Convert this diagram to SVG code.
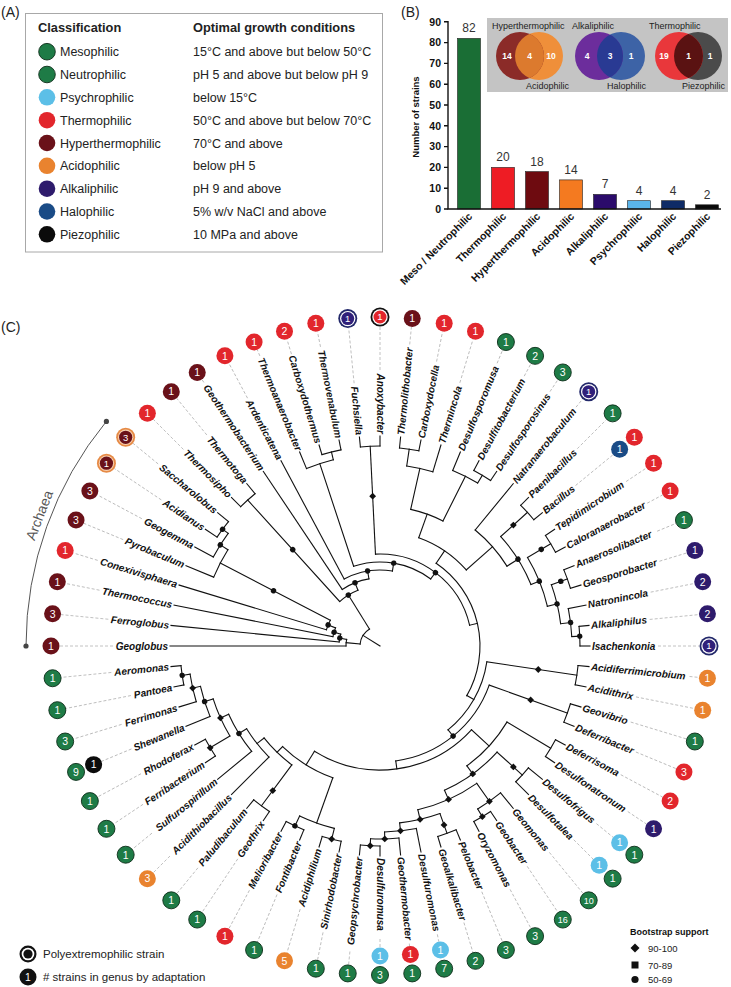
<svg xmlns="http://www.w3.org/2000/svg" xmlns:xlink="http://www.w3.org/1999/xlink" width="731" height="987" viewBox="0 0 731 987">
<style>
text{font-family:"Liberation Sans",Arial,Helvetica,sans-serif}
.t13{font-size:12.5px;fill:#222}
.hd{font-size:12.8px;font-weight:bold;fill:#222}
.pl{font-size:14px;fill:#222}
.ax{stroke:#111;stroke-width:1.4;fill:none}
.tk{font-size:10.5px;font-weight:bold;fill:#111;text-anchor:end}
.bv{font-size:12px;fill:#333;text-anchor:middle}
.xl{font-size:10.5px;font-weight:bold;fill:#111;text-anchor:end}
.vl{font-size:9px;fill:#222}
.vn{font-size:8.5px;font-weight:bold;fill:#fff;text-anchor:middle}
.br{stroke:#111;stroke-width:1.1;fill:none;stroke-linecap:square}
.ds{stroke:#b3b3b3;stroke-width:0.8;stroke-dasharray:3 2;fill:none}
.lb{font-size:10px;font-style:italic;font-weight:bold;fill:#111}
.fl{text-anchor:end}
.bn{font-size:10.5px;fill:#fff;text-anchor:middle}
.b2{font-size:9px}
.bs{font-size:9.5px}
.me{fill:#1e7b46;stroke:#0c2c18;stroke-width:0.9}
.ps{fill:#5cbfe7}
.th{fill:#e2262c}
.hy{fill:#6a1119}
.ac{fill:#e9832f}
.al{fill:#2e1b6c}
.ha{fill:#1a4b86}
.pz{fill:#0b0b0b}
.mk{fill:#111}
.lg{font-size:11.5px;fill:#222}
.bl{font-size:9.5px;fill:#222}
</style>
<defs>
<circle id="md" r="2.7"/>
<path id="mq" d="M0-3.4L3.4 0L0 3.4L-3.4 0Z"/>
<clipPath id="cv1"><circle cx="520" cy="56" r="24"/></clipPath>
<clipPath id="cv2"><circle cx="599" cy="56" r="24"/></clipPath>
<clipPath id="cv3"><circle cx="679" cy="56" r="24"/></clipPath>
</defs>
<rect width="731" height="987" fill="#fff"/>

<g id="panel-A">
<text class="pl" x="1" y="17">(A)</text>
<rect x="25.5" y="13.5" width="357" height="238.5" fill="none" stroke="#a8a8a8" stroke-width="1"/>
<text class="hd" x="38" y="32">Classification</text>
<text class="hd" x="193" y="32">Optimal growth conditions</text>
<g id="row-mesophilic"><circle class="me" cx="47" cy="51.7" r="8.3"/><text class="t13" x="60" y="56.2">Mesophilic</text><text class="t13" x="193" y="56.2">15°C and above but below 50°C</text></g>
<g id="row-neutrophilic"><circle class="me" cx="47" cy="74.5" r="8.3"/><text class="t13" x="60" y="79">Neutrophilic</text><text class="t13" x="193" y="79">pH 5 and above but below pH 9</text></g>
<g id="row-psychrophilic"><circle class="ps" cx="47" cy="97.3" r="8.3"/><text class="t13" x="60" y="101.8">Psychrophilic</text><text class="t13" x="193" y="101.8">below 15°C</text></g>
<g id="row-thermophilic"><circle class="th" cx="47" cy="120.2" r="8.3"/><text class="t13" x="60" y="124.7">Thermophilic</text><text class="t13" x="193" y="124.7">50°C and above but below 70°C</text></g>
<g id="row-hyperthermophilic"><circle class="hy" cx="47" cy="143" r="8.3"/><text class="t13" x="60" y="147.5">Hyperthermophilic</text><text class="t13" x="193" y="147.5">70°C and above</text></g>
<g id="row-acidophilic"><circle class="ac" cx="47" cy="165.8" r="8.3"/><text class="t13" x="60" y="170.3">Acidophilic</text><text class="t13" x="193" y="170.3">below pH 5</text></g>
<g id="row-alkaliphilic"><circle class="al" cx="47" cy="188.7" r="8.3"/><text class="t13" x="60" y="193.2">Alkaliphilic</text><text class="t13" x="193" y="193.2">pH 9 and above</text></g>
<g id="row-halophilic"><circle class="ha" cx="47" cy="211.5" r="8.3"/><text class="t13" x="60" y="216">Halophilic</text><text class="t13" x="193" y="216">5% w/v NaCl and above</text></g>
<g id="row-piezophilic"><circle class="pz" cx="47" cy="234.3" r="8.3"/><text class="t13" x="60" y="238.8">Piezophilic</text><text class="t13" x="193" y="238.8">10 MPa and above</text></g>
</g>

<g id="panel-B">
<text class="pl" x="401" y="17">(B)</text>
<text class="tk" style="font-size:9.5px;text-anchor:middle" transform="translate(418.5 117) rotate(-90)">Number of strains</text>
<g id="y-ticks">
<path class="ax" d="M444 209H448M444 188.2H448M444 167.4H448M444 146.6H448M444 125.8H448M444 105H448M444 84.2H448M444 63.4H448M444 42.6H448M444 21.8H448"/>
<text class="tk" x="441" y="212.8">0</text><text class="tk" x="441" y="192">10</text><text class="tk" x="441" y="171.2">20</text><text class="tk" x="441" y="150.4">30</text><text class="tk" x="441" y="129.6">40</text><text class="tk" x="441" y="108.8">50</text><text class="tk" x="441" y="88">60</text><text class="tk" x="441" y="67.2">70</text><text class="tk" x="441" y="46.4">80</text><text class="tk" x="441" y="25.6">90</text>
</g>
<g id="bars" stroke="#222" stroke-width="0.6">
<rect x="457.5" y="38.4" width="23" height="170.6" fill="#1a6e35"/>
<rect x="491.5" y="167.4" width="23" height="41.6" fill="#ee1c24"/>
<rect x="525.5" y="171.6" width="23" height="37.4" fill="#6e0b10"/>
<rect x="559.5" y="179.9" width="23" height="29.1" fill="#f47a20"/>
<rect x="593.5" y="194.4" width="23" height="14.6" fill="#2b0b6b"/>
<rect x="627.5" y="200.7" width="23" height="8.3" fill="#5ab4ea"/>
<rect x="661.5" y="200.7" width="23" height="8.3" fill="#0e2b66"/>
<rect x="695.5" y="204.8" width="23" height="4.2" fill="#0a0a0a"/>
</g>
<path class="ax" d="M448 21V209H721"/>
<g id="bar-values">
<text class="bv" x="469" y="32">82</text><text class="bv" x="503" y="161">20</text><text class="bv" x="537" y="165.5">18</text><text class="bv" x="571" y="173.5">14</text><text class="bv" x="605" y="188">7</text><text class="bv" x="639" y="194.5">4</text><text class="bv" x="673" y="194.5">4</text><text class="bv" x="707" y="198.5">2</text>
</g>
<g id="bar-labels">
<text class="xl" transform="translate(473 217) rotate(-45)">Meso / Neutrophilic</text>
<text class="xl" transform="translate(507 217) rotate(-45)">Thermophilic</text>
<text class="xl" transform="translate(541 217) rotate(-45)">Hyperthermophilic</text>
<text class="xl" transform="translate(575 217) rotate(-45)">Acidophilic</text>
<text class="xl" transform="translate(609 217) rotate(-45)">Alkaliphilic</text>
<text class="xl" transform="translate(643 217) rotate(-45)">Psychrophilic</text>
<text class="xl" transform="translate(677 217) rotate(-45)">Halophilic</text>
<text class="xl" transform="translate(711 217) rotate(-45)">Piezophilic</text>
</g>
<g id="venn-inset">
<rect x="487" y="18" width="241" height="74" fill="#c4c4c4"/>
<circle cx="539" cy="56" r="24" fill="#ef8f3a"/><circle cx="520" cy="56" r="24" fill="#8b2b28"/><circle cx="539" cy="56" r="24" fill="#dc7a2e" clip-path="url(#cv1)"/>
<circle cx="621" cy="56" r="24" fill="#3d63a6"/><circle cx="599" cy="56" r="24" fill="#6c2d9c"/><circle cx="621" cy="56" r="24" fill="#293a93" clip-path="url(#cv2)"/>
<circle cx="698" cy="56" r="24" fill="#4b4b4b"/><circle cx="679" cy="56" r="24" fill="#e9373b"/><circle cx="698" cy="56" r="24" fill="#5a1212" clip-path="url(#cv3)"/>
<text class="vn" x="507" y="59">14</text><text class="vn" x="529.5" y="59">4</text><text class="vn" x="551" y="59">10</text>
<text class="vn" x="587" y="59">4</text><text class="vn" x="610" y="59">3</text><text class="vn" x="631" y="59">1</text>
<text class="vn" x="664" y="59">19</text><text class="vn" x="688.5" y="59">1</text><text class="vn" x="710" y="59">1</text>
<text class="vl" x="492" y="29">Hyperthermophilic</text><text class="vl" x="526" y="88.5">Acidophilic</text>
<text class="vl" x="572" y="29">Alkaliphilic</text><text class="vl" x="607" y="88.5">Halophilic</text>
<text class="vl" x="649" y="29">Thermophilic</text><text class="vl" x="682" y="88.5">Piezophilic</text>
</g>
</g>

<text class="pl" x="1" y="332">(C)</text>

<g id="archaea-bracket">
<circle cx="380" cy="646" r="354" fill="none" stroke="#555" stroke-width="1" stroke-dasharray="243.27 3000" transform="rotate(180 380 646)"/>
<circle cx="26" cy="646" r="2.6" fill="#444"/><circle cx="106.4" cy="421.4" r="2.6" fill="#444"/>
<text x="43.9" y="517" style="font-size:14px;fill:#555;text-anchor:middle" transform="rotate(-69 43.9 517)">Archaea</text>
</g>

<g id="connectors">
<g id="arcs">
<circle class="br" cx="380" cy="646" r="196" stroke-dasharray="19.24 2000" transform="rotate(213.75 380 646)"/>
<circle class="br" cx="380" cy="646" r="189" stroke-dasharray="27.84 2000" transform="rotate(208.125 380 646)"/>
<circle class="br" cx="380" cy="646" r="180" stroke-dasharray="30.91 2000" transform="rotate(202.5 380 646)"/>
<circle class="br" cx="380" cy="646" r="56" stroke-dasharray="10.31 2000" transform="rotate(196.875 380 646)"/>
<circle class="br" cx="380" cy="646" r="48" stroke-dasharray="9.13 2000" transform="rotate(191.25 380 646)"/>
<circle class="br" cx="380" cy="646" r="41" stroke-dasharray="7.93 2000" transform="rotate(185.625 380 646)"/>
<circle class="br" cx="380" cy="646" r="34" stroke-dasharray="6.62 2000" transform="rotate(180 380 646)"/>
<circle class="br" cx="380" cy="646" r="20" stroke-dasharray="18.34 2000" transform="rotate(185.58 380 646)"/>
<circle class="br" cx="380" cy="646" r="197" stroke-dasharray="19.34 2000" transform="rotate(225 380 646)"/>
<circle class="br" cx="380" cy="646" r="60" stroke-dasharray="21.6 2000" transform="rotate(227.81 380 646)"/>
<circle class="br" cx="380" cy="646" r="68" stroke-dasharray="28.94 2000" transform="rotate(236.25 380 646)"/>
<circle class="br" cx="380" cy="646" r="76" stroke-dasharray="49.77 2000" transform="rotate(241.875 380 646)"/>
<circle class="br" cx="380" cy="646" r="84" stroke-dasharray="81.12 2000" transform="rotate(251.72 380 646)"/>
<circle class="br" cx="380" cy="646" r="200" stroke-dasharray="19.63 2000" transform="rotate(253.125 380 646)"/>
<circle class="br" cx="380" cy="646" r="192" stroke-dasharray="28.28 2000" transform="rotate(247.5 380 646)"/>
<circle class="br" cx="380" cy="646" r="200" stroke-dasharray="19.63 2000" transform="rotate(264.375 380 646)"/>
<circle class="br" cx="380" cy="646" r="92" stroke-dasharray="128.02 2000" transform="rotate(267.19 380 646)"/>
<circle class="br" cx="380" cy="646" r="100" stroke-dasharray="149.3 2000" transform="rotate(304.15 380 646)"/>
<circle class="br" cx="380" cy="646" r="199" stroke-dasharray="19.54 2000" transform="rotate(275.625 380 646)"/>
<circle class="br" cx="380" cy="646" r="182" stroke-dasharray="26.81 2000" transform="rotate(278.44 380 646)"/>
<circle class="br" cx="380" cy="646" r="199" stroke-dasharray="19.54 2000" transform="rotate(298.125 380 646)"/>
<circle class="br" cx="380" cy="646" r="190" stroke-dasharray="27.99 2000" transform="rotate(292.5 380 646)"/>
<circle class="br" cx="380" cy="646" r="140" stroke-dasharray="34.36 2000" transform="rotate(282.66 380 646)"/>
<circle class="br" cx="380" cy="646" r="199" stroke-dasharray="19.54 2000" transform="rotate(315 380 646)"/>
<circle class="br" cx="380" cy="646" r="199" stroke-dasharray="19.54 2000" transform="rotate(326.25 380 646)"/>
<circle class="br" cx="380" cy="646" r="199" stroke-dasharray="19.54 2000" transform="rotate(337.5 380 646)"/>
<circle class="br" cx="380" cy="646" r="200" stroke-dasharray="19.63 2000" transform="rotate(354.375 380 646)"/>
<circle class="br" cx="380" cy="646" r="192" stroke-dasharray="28.28 2000" transform="rotate(348.75 380 646)"/>
<circle class="br" cx="380" cy="646" r="182" stroke-dasharray="40.21 2000" transform="rotate(340.31 380 646)"/>
<circle class="br" cx="380" cy="646" r="172" stroke-dasharray="52.77 2000" transform="rotate(329.06 380 646)"/>
<circle class="br" cx="380" cy="646" r="163" stroke-dasharray="57.01 2000" transform="rotate(317.81 380 646)"/>
<circle class="br" cx="380" cy="646" r="150" stroke-dasharray="48.3 2000" transform="rotate(309.375 380 646)"/>
<circle class="br" cx="380" cy="646" r="115" stroke-dasharray="58.03 2000" transform="rotate(289.69 380 646)"/>
<circle class="br" cx="380" cy="646" r="108" stroke-dasharray="80.11 2000" transform="rotate(368.44 380 646)"/>
<circle class="br" cx="380" cy="646" r="199" stroke-dasharray="19.54 2000" transform="rotate(365.625 380 646)"/>
<circle class="br" cx="380" cy="646" r="116" stroke-dasharray="126.54 2000" transform="rotate(379.69 380 646)"/>
<circle class="br" cx="380" cy="646" r="199" stroke-dasharray="19.54 2000" transform="rotate(376.875 380 646)"/>
<circle class="br" cx="380" cy="646" r="124" stroke-dasharray="171.79 2000" transform="rotate(402.5 380 646)"/>
<circle class="br" cx="380" cy="646" r="148" stroke-dasharray="59.7 2000" transform="rotate(390.94 380 646)"/>
<circle class="br" cx="380" cy="646" r="199" stroke-dasharray="19.54 2000" transform="rotate(388.125 380 646)"/>
<circle class="br" cx="380" cy="646" r="158" stroke-dasharray="65.44 2000" transform="rotate(402.19 380 646)"/>
<circle class="br" cx="380" cy="646" r="192" stroke-dasharray="18.85 2000" transform="rotate(399.375 380 646)"/>
<circle class="br" cx="380" cy="646" r="168" stroke-dasharray="64.95 2000" transform="rotate(414.84 380 646)"/>
<circle class="br" cx="380" cy="646" r="190" stroke-dasharray="27.99 2000" transform="rotate(410.625 380 646)"/>
<circle class="br" cx="380" cy="646" r="199" stroke-dasharray="19.54 2000" transform="rotate(416.25 380 646)"/>
<circle class="br" cx="380" cy="646" r="178" stroke-dasharray="41.51 2000" transform="rotate(430.31 380 646)"/>
<circle class="br" cx="380" cy="646" r="199" stroke-dasharray="19.54 2000" transform="rotate(427.5 380 646)"/>
<circle class="br" cx="380" cy="646" r="186" stroke-dasharray="31.94 2000" transform="rotate(438.75 380 646)"/>
<circle class="br" cx="380" cy="646" r="193" stroke-dasharray="28.43 2000" transform="rotate(444.375 380 646)"/>
<circle class="br" cx="380" cy="646" r="200" stroke-dasharray="19.63 2000" transform="rotate(450 380 646)"/>
<circle class="br" cx="380" cy="646" r="140" stroke-dasharray="59.6 2000" transform="rotate(469.69 380 646)"/>
<circle class="br" cx="380" cy="646" r="188" stroke-dasharray="36.91 2000" transform="rotate(464.06 380 646)"/>
<circle class="br" cx="380" cy="646" r="199" stroke-dasharray="19.54 2000" transform="rotate(461.25 380 646)"/>
<circle class="br" cx="380" cy="646" r="199" stroke-dasharray="19.54 2000" transform="rotate(472.5 380 646)"/>
<circle class="br" cx="380" cy="646" r="148" stroke-dasharray="38.82 2000" transform="rotate(486.56 380 646)"/>
<circle class="br" cx="380" cy="646" r="199" stroke-dasharray="19.54 2000" transform="rotate(483.75 380 646)"/>
<circle class="br" cx="380" cy="646" r="157" stroke-dasharray="36.12 2000" transform="rotate(495 380 646)"/>
<circle class="br" cx="380" cy="646" r="166" stroke-dasharray="43.81 2000" transform="rotate(500.625 380 646)"/>
<circle class="br" cx="380" cy="646" r="175" stroke-dasharray="40.81 2000" transform="rotate(509.06 380 646)"/>
<circle class="br" cx="380" cy="646" r="198" stroke-dasharray="19.44 2000" transform="rotate(506.25 380 646)"/>
<circle class="br" cx="380" cy="646" r="184" stroke-dasharray="31.6 2000" transform="rotate(517.5 380 646)"/>
<circle class="br" cx="380" cy="646" r="192" stroke-dasharray="28.28 2000" transform="rotate(523.125 380 646)"/>
<circle class="br" cx="380" cy="646" r="200" stroke-dasharray="19.63 2000" transform="rotate(528.75 380 646)"/>
</g>
<g id="leaf-stems">
<path class="br" d="M414 646H590" transform="rotate(180 380 646)"/>
<path class="br" d="M421 646H590" transform="rotate(185.625 380 646)"/>
<path class="br" d="M428 646H590" transform="rotate(191.25 380 646)"/>
<path class="br" d="M436 646H590" transform="rotate(196.875 380 646)"/>
<path class="br" d="M560 646H590" transform="rotate(202.5 380 646)"/>
<path class="br" d="M569 646H590" transform="rotate(208.125 380 646)"/>
<path class="br" d="M576 646H590" transform="rotate(213.75 380 646)"/>
<path class="br" d="M576 646H590" transform="rotate(219.375 380 646)"/>
<path class="br" d="M577 646H590" transform="rotate(225 380 646)"/>
<path class="br" d="M577 646H590" transform="rotate(230.625 380 646)"/>
<path class="br" d="M448 646H590" transform="rotate(236.25 380 646)"/>
<path class="br" d="M456 646H590" transform="rotate(241.875 380 646)"/>
<path class="br" d="M572 646H590" transform="rotate(247.5 380 646)"/>
<path class="br" d="M580 646H590" transform="rotate(253.125 380 646)"/>
<path class="br" d="M580 646H590" transform="rotate(258.75 380 646)"/>
<path class="br" d="M580 646H590" transform="rotate(264.375 380 646)"/>
<path class="br" d="M580 646H590" transform="rotate(270 380 646)"/>
<path class="br" d="M579 646H590" transform="rotate(275.625 380 646)"/>
<path class="br" d="M579 646H590" transform="rotate(281.25 380 646)"/>
<path class="br" d="M562 646H590" transform="rotate(286.875 380 646)"/>
<path class="br" d="M570 646H590" transform="rotate(292.5 380 646)"/>
<path class="br" d="M579 646H590" transform="rotate(298.125 380 646)"/>
<path class="br" d="M579 646H590" transform="rotate(303.75 380 646)"/>
<path class="br" d="M530 646H590" transform="rotate(309.375 380 646)"/>
<path class="br" d="M579 646H590" transform="rotate(315 380 646)"/>
<path class="br" d="M579 646H590" transform="rotate(320.625 380 646)"/>
<path class="br" d="M579 646H590" transform="rotate(326.25 380 646)"/>
<path class="br" d="M579 646H590" transform="rotate(331.875 380 646)"/>
<path class="br" d="M579 646H590" transform="rotate(337.5 380 646)"/>
<path class="br" d="M579 646H590" transform="rotate(343.125 380 646)"/>
<path class="br" d="M572 646H590" transform="rotate(348.75 380 646)"/>
<path class="br" d="M580 646H590" transform="rotate(354.375 380 646)"/>
<path class="br" d="M580 646H590" transform="rotate(360 380 646)"/>
<path class="br" d="M579 646H590" transform="rotate(365.625 380 646)"/>
<path class="br" d="M579 646H590" transform="rotate(371.25 380 646)"/>
<path class="br" d="M579 646H590" transform="rotate(376.875 380 646)"/>
<path class="br" d="M579 646H590" transform="rotate(382.5 380 646)"/>
<path class="br" d="M579 646H590" transform="rotate(388.125 380 646)"/>
<path class="br" d="M579 646H590" transform="rotate(393.75 380 646)"/>
<path class="br" d="M572 646H590" transform="rotate(399.375 380 646)"/>
<path class="br" d="M572 646H590" transform="rotate(405 380 646)"/>
<path class="br" d="M570 646H590" transform="rotate(410.625 380 646)"/>
<path class="br" d="M579 646H590" transform="rotate(416.25 380 646)"/>
<path class="br" d="M579 646H590" transform="rotate(421.875 380 646)"/>
<path class="br" d="M579 646H590" transform="rotate(427.5 380 646)"/>
<path class="br" d="M579 646H590" transform="rotate(433.125 380 646)"/>
<path class="br" d="M566 646H590" transform="rotate(438.75 380 646)"/>
<path class="br" d="M573 646H590" transform="rotate(444.375 380 646)"/>
<path class="br" d="M580 646H590" transform="rotate(450 380 646)"/>
<path class="br" d="M580 646H590" transform="rotate(455.625 380 646)"/>
<path class="br" d="M579 646H590" transform="rotate(461.25 380 646)"/>
<path class="br" d="M579 646H590" transform="rotate(466.875 380 646)"/>
<path class="br" d="M579 646H590" transform="rotate(472.5 380 646)"/>
<path class="br" d="M579 646H590" transform="rotate(478.125 380 646)"/>
<path class="br" d="M579 646H590" transform="rotate(483.75 380 646)"/>
<path class="br" d="M579 646H590" transform="rotate(489.375 380 646)"/>
<path class="br" d="M537 646H590" transform="rotate(495 380 646)"/>
<path class="br" d="M546 646H590" transform="rotate(500.625 380 646)"/>
<path class="br" d="M578 646H590" transform="rotate(506.25 380 646)"/>
<path class="br" d="M578 646H590" transform="rotate(511.875 380 646)"/>
<path class="br" d="M564 646H590" transform="rotate(517.5 380 646)"/>
<path class="br" d="M572 646H590" transform="rotate(523.125 380 646)"/>
<path class="br" d="M580 646H590" transform="rotate(528.75 380 646)"/>
<path class="br" d="M580 646H590" transform="rotate(534.375 380 646)"/>
</g>
<g id="inner-stems">
<path class="br" d="M569 646H576" transform="rotate(216.56 380 646)"/>
<path class="br" d="M560 646H569" transform="rotate(212.34 380 646)"/>
<path class="br" d="M436 646H560" transform="rotate(207.42 380 646)"/>
<path class="br" d="M428 646H436" transform="rotate(202.15 380 646)"/>
<path class="br" d="M421 646H428" transform="rotate(196.7 380 646)"/>
<path class="br" d="M414 646H421" transform="rotate(191.16 380 646)"/>
<path class="br" d="M400 646H414" transform="rotate(185.58 380 646)"/>
<path class="br" d="M380 646H400" transform="rotate(211.86 380 646)"/>
<path class="br" d="M440 646H577" transform="rotate(227.81 380 646)"/>
<path class="br" d="M400 646H440" transform="rotate(238.13 380 646)"/>
<path class="br" d="M440 646H448" transform="rotate(248.44 380 646)"/>
<path class="br" d="M448 646H456" transform="rotate(260.63 380 646)"/>
<path class="br" d="M456 646H464" transform="rotate(279.39 380 646)"/>
<path class="br" d="M572 646H580" transform="rotate(255.94 380 646)"/>
<path class="br" d="M464 646H572" transform="rotate(251.72 380 646)"/>
<path class="br" d="M472 646H580" transform="rotate(267.19 380 646)"/>
<path class="br" d="M464 646H472" transform="rotate(307.05 380 646)"/>
<path class="br" d="M472 646H480" transform="rotate(346.92 380 646)"/>
<path class="br" d="M562 646H579" transform="rotate(278.44 380 646)"/>
<path class="br" d="M520 646H562" transform="rotate(282.66 380 646)"/>
<path class="br" d="M570 646H579" transform="rotate(300.94 380 646)"/>
<path class="br" d="M520 646H570" transform="rotate(296.72 380 646)"/>
<path class="br" d="M495 646H520" transform="rotate(289.69 380 646)"/>
<path class="br" d="M543 646H579" transform="rotate(317.81 380 646)"/>
<path class="br" d="M552 646H579" transform="rotate(329.06 380 646)"/>
<path class="br" d="M562 646H579" transform="rotate(340.31 380 646)"/>
<path class="br" d="M572 646H580" transform="rotate(357.19 380 646)"/>
<path class="br" d="M562 646H572" transform="rotate(352.97 380 646)"/>
<path class="br" d="M552 646H562" transform="rotate(346.64 380 646)"/>
<path class="br" d="M543 646H552" transform="rotate(337.85 380 646)"/>
<path class="br" d="M530 646H543" transform="rotate(327.83 380 646)"/>
<path class="br" d="M495 646H530" transform="rotate(318.6 380 646)"/>
<path class="br" d="M480 646H495" transform="rotate(304.15 380 646)"/>
<path class="br" d="M480 646H488" transform="rotate(389.69 380 646)"/>
<path class="br" d="M488 646H579" transform="rotate(368.44 380 646)"/>
<path class="br" d="M488 646H496" transform="rotate(410.94 380 646)"/>
<path class="br" d="M496 646H579" transform="rotate(379.69 380 646)"/>
<path class="br" d="M496 646H504" transform="rotate(442.19 380 646)"/>
<path class="br" d="M504 646H528" transform="rotate(402.5 380 646)"/>
<path class="br" d="M528 646H579" transform="rotate(390.94 380 646)"/>
<path class="br" d="M528 646H538" transform="rotate(414.05 380 646)"/>
<path class="br" d="M538 646H572" transform="rotate(402.19 380 646)"/>
<path class="br" d="M538 646H548" transform="rotate(425.92 380 646)"/>
<path class="br" d="M548 646H570" transform="rotate(414.84 380 646)"/>
<path class="br" d="M570 646H579" transform="rotate(419.06 380 646)"/>
<path class="br" d="M548 646H558" transform="rotate(436.99 380 646)"/>
<path class="br" d="M558 646H579" transform="rotate(430.31 380 646)"/>
<path class="br" d="M558 646H566" transform="rotate(443.67 380 646)"/>
<path class="br" d="M566 646H573" transform="rotate(448.59 380 646)"/>
<path class="br" d="M573 646H580" transform="rotate(452.81 380 646)"/>
<path class="br" d="M504 646H520" transform="rotate(481.88 380 646)"/>
<path class="br" d="M520 646H568" transform="rotate(469.69 380 646)"/>
<path class="br" d="M568 646H579" transform="rotate(464.06 380 646)"/>
<path class="br" d="M568 646H579" transform="rotate(475.31 380 646)"/>
<path class="br" d="M520 646H528" transform="rotate(494.08 380 646)"/>
<path class="br" d="M528 646H579" transform="rotate(486.56 380 646)"/>
<path class="br" d="M528 646H537" transform="rotate(501.59 380 646)"/>
<path class="br" d="M537 646H546" transform="rotate(508.18 380 646)"/>
<path class="br" d="M546 646H555" transform="rotate(515.74 380 646)"/>
<path class="br" d="M555 646H578" transform="rotate(509.06 380 646)"/>
<path class="br" d="M555 646H564" transform="rotate(522.42 380 646)"/>
<path class="br" d="M564 646H572" transform="rotate(527.34 380 646)"/>
<path class="br" d="M572 646H580" transform="rotate(531.56 380 646)"/>
</g>
<g id="bootstrap-markers" class="mk">
<use href="#md" transform="rotate(216.56 380 646) translate(576 646)"/>
<use href="#md" transform="rotate(212.34 380 646) translate(569 646)"/>
<use href="#md" transform="rotate(207.42 380 646) translate(500 646)"/>
<use href="#md" transform="rotate(202.15 380 646) translate(436 646)"/>
<use href="#md" transform="rotate(196.7 380 646) translate(428 646)"/>
<use href="#md" transform="rotate(191.16 380 646) translate(421 646)"/>
<use href="#md" transform="rotate(227.81 380 646) translate(510 646)"/>
<use href="#md" transform="rotate(238.13 380 646) translate(440 646)"/>
<use href="#md" transform="rotate(248.44 380 646) translate(448 646)"/>
<use href="#md" transform="rotate(260.63 380 646) translate(456 646)"/>
<use href="#md" transform="rotate(279.39 380 646) translate(464 646)"/>
<use href="#md" transform="rotate(307.05 380 646) translate(472 646)"/>
<use href="#md" transform="rotate(327.83 380 646) translate(543 646)"/>
<use href="#md" transform="rotate(329.06 380 646) translate(568 646)"/>
<use href="#md" transform="rotate(337.85 380 646) translate(552 646)"/>
<use href="#md" transform="rotate(340.31 380 646) translate(572 646)"/>
<use href="#md" transform="rotate(346.64 380 646) translate(562 646)"/>
<use href="#md" transform="rotate(352.97 380 646) translate(572 646)"/>
<use href="#md" transform="rotate(357.19 380 646) translate(580 646)"/>
<use href="#md" transform="rotate(410.94 380 646) translate(496 646)"/>
<use href="#md" transform="rotate(475.31 380 646) translate(579 646)"/>
<use href="#md" transform="rotate(508.18 380 646) translate(546 646)"/>
<use href="#md" transform="rotate(522.42 380 646) translate(564 646)"/>
<use href="#md" transform="rotate(531.56 380 646) translate(580 646)"/>
<use href="#mq" transform="rotate(267.19 380 646) translate(530 646) rotate(-267.19)"/>
<use href="#mq" transform="rotate(317.81 380 646) translate(560 646) rotate(-317.81)"/>
<use href="#mq" transform="rotate(368.44 380 646) translate(540 646) rotate(-368.44)"/>
<use href="#mq" transform="rotate(379.69 380 646) translate(540 646) rotate(-379.69)"/>
<use href="#mq" transform="rotate(402.19 380 646) translate(560 646) rotate(-402.19)"/>
<use href="#mq" transform="rotate(414.05 380 646) translate(538 646) rotate(-414.05)"/>
<use href="#mq" transform="rotate(414.84 380 646) translate(570 646) rotate(-414.84)"/>
<use href="#mq" transform="rotate(419.06 380 646) translate(579 646) rotate(-419.06)"/>
<use href="#mq" transform="rotate(425.92 380 646) translate(548 646) rotate(-425.92)"/>
<use href="#mq" transform="rotate(430.31 380 646) translate(570 646) rotate(-430.31)"/>
<use href="#mq" transform="rotate(436.99 380 646) translate(558 646) rotate(-436.99)"/>
<use href="#mq" transform="rotate(443.67 380 646) translate(566 646) rotate(-443.67)"/>
<use href="#mq" transform="rotate(448.59 380 646) translate(573 646) rotate(-448.59)"/>
<use href="#mq" transform="rotate(452.81 380 646) translate(580 646) rotate(-452.81)"/>
<use href="#mq" transform="rotate(464.06 380 646) translate(579 646) rotate(-464.06)"/>
<use href="#mq" transform="rotate(486.56 380 646) translate(560 646) rotate(-486.56)"/>
<use href="#mq" transform="rotate(509.06 380 646) translate(578 646) rotate(-509.06)"/>
<use href="#mq" transform="rotate(515.74 380 646) translate(555 646) rotate(-515.74)"/>
<use href="#mq" transform="rotate(527.34 380 646) translate(572 646) rotate(-527.34)"/>
</g>
</g>

<g id="leaves">
<g id="leaf-Geoglobus" transform="rotate(180 380 646)"><path class="ds" d="M647 646H700.5"/><text class="lb fl" x="592" y="649.5" transform="rotate(180 592 646)">Geoglobus</text><g transform="translate(709 646) rotate(-180)"><circle class="hy" r="8.5"/><text class="bn" y="3.8">1</text></g></g>
<g id="leaf-Ferroglobus" transform="rotate(185.625 380 646)"><path class="ds" d="M653 646H700.5"/><text class="lb fl" x="592" y="649.5" transform="rotate(180 592 646)">Ferroglobus</text><g transform="translate(709 646) rotate(-185.625)"><circle class="hy" r="8.5"/><text class="bn" y="3.8">3</text></g></g>
<g id="leaf-Thermococcus" transform="rotate(191.25 380 646)"><path class="ds" d="M666 646H700.5"/><text class="lb fl" x="592" y="649.5" transform="rotate(180 592 646)">Thermococcus</text><g transform="translate(709 646) rotate(-191.25)"><circle class="hy" r="8.5"/><text class="bn" y="3.8">1</text></g></g>
<g id="leaf-Conexivisphaera" transform="rotate(196.875 380 646)"><path class="ds" d="M675 646H700.5"/><text class="lb fl" x="592" y="649.5" transform="rotate(180 592 646)">Conexivisphaera</text><g transform="translate(709 646) rotate(-196.875)"><circle class="th" r="8.5"/><text class="bn" y="3.8">1</text></g></g>
<g id="leaf-Pyrobaculum" transform="rotate(202.5 380 646)"><path class="ds" d="M658 646H700.5"/><text class="lb fl" x="592" y="649.5" transform="rotate(180 592 646)">Pyrobaculum</text><g transform="translate(709 646) rotate(-202.5)"><circle class="hy" r="8.5"/><text class="bn" y="3.8">3</text></g></g>
<g id="leaf-Geogemma" transform="rotate(208.125 380 646)"><path class="ds" d="M650 646H700.5"/><text class="lb fl" x="592" y="649.5" transform="rotate(180 592 646)">Geogemma</text><g transform="translate(709 646) rotate(-208.125)"><circle class="hy" r="8.5"/><text class="bn" y="3.8">3</text></g></g>
<g id="leaf-Acidianus" transform="rotate(213.75 380 646)"><path class="ds" d="M643 646H699.5"/><text class="lb fl" x="592" y="649.5" transform="rotate(180 592 646)">Acidianus</text><g transform="translate(709 646) rotate(-213.75)"><circle r="9.5" fill="#e68a45"/><circle r="7.7" fill="#f7cfb0"/><circle class="hy" r="6.6"/><text class="bn bs" y="3.4">1</text></g></g>
<g id="leaf-Saccharolobus" transform="rotate(219.375 380 646)"><path class="ds" d="M667 646H699.5"/><text class="lb fl" x="592" y="649.5" transform="rotate(180 592 646)">Saccharolobus</text><g transform="translate(709 646) rotate(-219.375)"><circle r="9.5" fill="#e68a45"/><circle r="7.7" fill="#f7cfb0"/><circle class="hy" r="6.6"/><text class="bn bs" y="3.4">3</text></g></g>
<g id="leaf-Thermosipho" transform="rotate(225 380 646)"><path class="ds" d="M658 646H700.5"/><text class="lb fl" x="592" y="649.5" transform="rotate(180 592 646)">Thermosipho</text><g transform="translate(709 646) rotate(-225)"><circle class="th" r="8.5"/><text class="bn" y="3.8">1</text></g></g>
<g id="leaf-Thermotoga" transform="rotate(230.625 380 646)"><path class="ds" d="M653 646H700.5"/><text class="lb fl" x="592" y="649.5" transform="rotate(180 592 646)">Thermotoga</text><g transform="translate(709 646) rotate(-230.625)"><circle class="hy" r="8.5"/><text class="bn" y="3.8">1</text></g></g>
<g id="leaf-Geothermobacterium" transform="rotate(236.25 380 646)"><path class="ds" d="M697 646H700.5"/><text class="lb fl" x="592" y="649.5" transform="rotate(180 592 646)">Geothermobacterium</text><g transform="translate(709 646) rotate(-236.25)"><circle class="hy" r="8.5"/><text class="bn" y="3.8">1</text></g></g>
<g id="leaf-Ardenticatena" transform="rotate(241.875 380 646)"><path class="ds" d="M661 646H700.5"/><text class="lb fl" x="592" y="649.5" transform="rotate(180 592 646)">Ardenticatena</text><g transform="translate(709 646) rotate(-241.875)"><circle class="th" r="8.5"/><text class="bn" y="3.8">1</text></g></g>
<g id="leaf-Thermoanaerobacter" transform="rotate(247.5 380 646)"><path class="ds" d="M694 646H700.5"/><text class="lb fl" x="592" y="649.5" transform="rotate(180 592 646)">Thermoanaerobacter</text><g transform="translate(709 646) rotate(-247.5)"><circle class="th" r="8.5"/><text class="bn" y="3.8">1</text></g></g>
<g id="leaf-Carboxydothermus" transform="rotate(253.125 380 646)"><path class="ds" d="M685 646H700.5"/><text class="lb fl" x="592" y="649.5" transform="rotate(180 592 646)">Carboxydothermus</text><g transform="translate(709 646) rotate(-253.125)"><circle class="th" r="8.5"/><text class="bn" y="3.8">2</text></g></g>
<g id="leaf-Thermovenabulum" transform="rotate(258.75 380 646)"><path class="ds" d="M685 646H700.5"/><text class="lb fl" x="592" y="649.5" transform="rotate(180 592 646)">Thermovenabulum</text><g transform="translate(709 646) rotate(-258.75)"><circle class="th" r="8.5"/><text class="bn" y="3.8">1</text></g></g>
<g id="leaf-Fuchsiella" transform="rotate(264.375 380 646)"><path class="ds" d="M644 646H699.5"/><text class="lb fl" x="592" y="649.5" transform="rotate(180 592 646)">Fuchsiella</text><g transform="translate(709 646) rotate(-264.375)"><circle r="9.5" fill="#22286a"/><circle r="7.7" fill="#fff"/><circle r="6.5" fill="#30207a"/><text class="bn bs" y="3.4">1</text></g></g>
<g id="leaf-Anoxybacter" transform="rotate(270 380 646)"><path class="ds" d="M656 646H699.5"/><text class="lb fl" x="592" y="649.5" transform="rotate(180 592 646)">Anoxybacter</text><g transform="translate(709 646) rotate(-270)"><circle r="9.5" fill="#111"/><circle r="7.7" fill="#fff"/><circle class="th" r="6.5"/><text class="bn bs" y="3.4">1</text></g></g>
<g id="leaf-Thermolithobacter" transform="rotate(275.625 380 646)"><path class="ds" d="M683 646H700.5"/><text class="lb" x="592" y="649.5">Thermolithobacter</text><g transform="translate(709 646) rotate(-275.625)"><circle class="hy" r="8.5"/><text class="bn" y="3.8">1</text></g></g>
<g id="leaf-Carboxydocella" transform="rotate(281.25 380 646)"><path class="ds" d="M670 646H700.5"/><text class="lb" x="592" y="649.5">Carboxydocella</text><g transform="translate(709 646) rotate(-281.25)"><circle class="th" r="8.5"/><text class="bn" y="3.8">1</text></g></g>
<g id="leaf-Thermincola" transform="rotate(286.875 380 646)"><path class="ds" d="M655 646H700.5"/><text class="lb" x="592" y="649.5">Thermincola</text><g transform="translate(709 646) rotate(-286.875)"><circle class="th" r="8.5"/><text class="bn" y="3.8">1</text></g></g>
<g id="leaf-Desulfosporomusa" transform="rotate(292.5 380 646)"><path class="ds" d="M686 646H700.5"/><text class="lb" x="592" y="649.5">Desulfosporomusa</text><g transform="translate(709 646) rotate(-292.5)"><circle class="me" r="8.5"/><text class="bn" y="3.8">1</text></g></g>
<g id="leaf-Desulfitobacterium" transform="rotate(298.125 380 646)"><path class="ds" d="M686 646H700.5"/><text class="lb" x="592" y="649.5">Desulfitobacterium</text><g transform="translate(709 646) rotate(-298.125)"><circle class="me" r="8.5"/><text class="bn" y="3.8">2</text></g></g>
<g id="leaf-Desulfosporosinus" transform="rotate(303.75 380 646)"><path class="ds" d="M686 646H700.5"/><text class="lb" x="592" y="649.5">Desulfosporosinus</text><g transform="translate(709 646) rotate(-303.75)"><circle class="me" r="8.5"/><text class="bn" y="3.8">3</text></g></g>
<g id="leaf-Natranaerobaculum" transform="rotate(309.375 380 646)"><path class="ds" d="M689 646H699.5"/><text class="lb" x="592" y="649.5">Natranaerobaculum</text><g transform="translate(709 646) rotate(-309.375)"><circle r="9.5" fill="#22286a"/><circle r="7.7" fill="#fff"/><circle r="6.5" fill="#30207a"/><text class="bn bs" y="3.4">1</text></g></g>
<g id="leaf-Paenibacillus" transform="rotate(315 380 646)"><path class="ds" d="M659 646H700.5"/><text class="lb" x="592" y="649.5">Paenibacillus</text><g transform="translate(709 646) rotate(-315)"><circle class="me" r="8.5"/><text class="bn" y="3.8">1</text></g></g>
<g id="leaf-Bacillus" transform="rotate(320.625 380 646)"><path class="ds" d="M633 646H681.5"/><text class="lb" x="592" y="649.5">Bacillus</text><g transform="translate(709 646) rotate(-320.625)"><circle class="th" r="8.5"/><text class="bn" y="3.8">1</text></g><g transform="translate(690 646) rotate(-320.625)"><circle class="ha" r="8.5"/><text class="bn" y="3.8">1</text></g></g>
<g id="leaf-Tepidimicrobium" transform="rotate(326.25 380 646)"><path class="ds" d="M676 646H700.5"/><text class="lb" x="592" y="649.5">Tepidimicrobium</text><g transform="translate(709 646) rotate(-326.25)"><circle class="th" r="8.5"/><text class="bn" y="3.8">1</text></g></g>
<g id="leaf-Caloranaerobacter" transform="rotate(331.875 380 646)"><path class="ds" d="M683 646H700.5"/><text class="lb" x="592" y="649.5">Caloranaerobacter</text><g transform="translate(709 646) rotate(-331.875)"><circle class="th" r="8.5"/><text class="bn" y="3.8">1</text></g></g>
<g id="leaf-Anaerosolibacter" transform="rotate(337.5 380 646)"><path class="ds" d="M680 646H700.5"/><text class="lb" x="592" y="649.5">Anaerosolibacter</text><g transform="translate(709 646) rotate(-337.5)"><circle class="me" r="8.5"/><text class="bn" y="3.8">1</text></g></g>
<g id="leaf-Geosporobacter" transform="rotate(343.125 380 646)"><path class="ds" d="M672 646H700.5"/><text class="lb" x="592" y="649.5">Geosporobacter</text><g transform="translate(709 646) rotate(-343.125)"><circle class="al" r="8.5"/><text class="bn" y="3.8">1</text></g></g>
<g id="leaf-Natronincola" transform="rotate(348.75 380 646)"><path class="ds" d="M656 646H700.5"/><text class="lb" x="592" y="649.5">Natronincola</text><g transform="translate(709 646) rotate(-348.75)"><circle class="al" r="8.5"/><text class="bn" y="3.8">2</text></g></g>
<g id="leaf-Alkaliphilus" transform="rotate(354.375 380 646)"><path class="ds" d="M651 646H700.5"/><text class="lb" x="592" y="649.5">Alkaliphilus</text><g transform="translate(709 646) rotate(-354.375)"><circle class="al" r="8.5"/><text class="bn" y="3.8">2</text></g></g>
<g id="leaf-Isachenkonia" transform="rotate(360 380 646)"><path class="ds" d="M658 646H699.5"/><text class="lb" x="592" y="649.5">Isachenkonia</text><g transform="translate(709 646) rotate(-360)"><circle r="9.5" fill="#22286a"/><circle r="7.7" fill="#fff"/><circle r="6.5" fill="#30207a"/><text class="bn bs" y="3.4">1</text></g></g>
<g id="leaf-Acidiferrimicrobium" transform="rotate(365.625 380 646)"><path class="ds" d="M691 646H700.5"/><text class="lb" x="592" y="649.5">Acidiferrimicrobium</text><g transform="translate(709 646) rotate(-365.625)"><circle class="ac" r="8.5"/><text class="bn" y="3.8">1</text></g></g>
<g id="leaf-Acidithrix" transform="rotate(371.25 380 646)"><path class="ds" d="M641 646H700.5"/><text class="lb" x="592" y="649.5">Acidithrix</text><g transform="translate(709 646) rotate(-371.25)"><circle class="ac" r="8.5"/><text class="bn" y="3.8">1</text></g></g>
<g id="leaf-Geovibrio" transform="rotate(376.875 380 646)"><path class="ds" d="M642 646H700.5"/><text class="lb" x="592" y="649.5">Geovibrio</text><g transform="translate(709 646) rotate(-376.875)"><circle class="me" r="8.5"/><text class="bn" y="3.8">1</text></g></g>
<g id="leaf-Deferribacter" transform="rotate(382.5 380 646)"><path class="ds" d="M657 646H700.5"/><text class="lb" x="592" y="649.5">Deferribacter</text><g transform="translate(709 646) rotate(-382.5)"><circle class="th" r="8.5"/><text class="bn" y="3.8">3</text></g></g>
<g id="leaf-Deferrisoma" transform="rotate(388.125 380 646)"><path class="ds" d="M653 646H700.5"/><text class="lb" x="592" y="649.5">Deferrisoma</text><g transform="translate(709 646) rotate(-388.125)"><circle class="th" r="8.5"/><text class="bn" y="3.8">2</text></g></g>
<g id="leaf-Desulfonatronum" transform="rotate(393.75 380 646)"><path class="ds" d="M678 646H700.5"/><text class="lb" x="592" y="649.5">Desulfonatronum</text><g transform="translate(709 646) rotate(-393.75)"><circle class="al" r="8.5"/><text class="bn" y="3.8">1</text></g></g>
<g id="leaf-Desulfofrigus" transform="rotate(399.375 380 646)"><path class="ds" d="M660 646H681.5"/><text class="lb" x="592" y="649.5">Desulfofrigus</text><g transform="translate(709 646) rotate(-399.375)"><circle class="me" r="8.5"/><text class="bn" y="3.8">1</text></g><g transform="translate(690 646) rotate(-399.375)"><circle class="ps" r="8.5"/><text class="bn" y="3.8">1</text></g></g>
<g id="leaf-Desulfotalea" transform="rotate(405 380 646)"><path class="ds" d="M654 646H681.5"/><text class="lb" x="592" y="649.5">Desulfotalea</text><g transform="translate(709 646) rotate(-405)"><circle class="me" r="8.5"/><text class="bn" y="3.8">1</text></g><g transform="translate(690 646) rotate(-405)"><circle class="ps" r="8.5"/><text class="bn" y="3.8">1</text></g></g>
<g id="leaf-Geomonas" transform="rotate(410.625 380 646)"><path class="ds" d="M647 646H700.5"/><text class="lb" x="592" y="649.5">Geomonas</text><g transform="translate(709 646) rotate(-410.625)"><circle class="me" r="8.5"/><text class="bn b2" y="3.3">10</text></g></g>
<g id="leaf-Geobacter" transform="rotate(416.25 380 646)"><path class="ds" d="M645 646H700.5"/><text class="lb" x="592" y="649.5">Geobacter</text><g transform="translate(709 646) rotate(-416.25)"><circle class="me" r="8.5"/><text class="bn b2" y="3.3">16</text></g></g>
<g id="leaf-Oryzomonas" transform="rotate(421.875 380 646)"><path class="ds" d="M656 646H700.5"/><text class="lb" x="592" y="649.5">Oryzomonas</text><g transform="translate(709 646) rotate(-421.875)"><circle class="me" r="8.5"/><text class="bn" y="3.8">3</text></g></g>
<g id="leaf-Pelobacter" transform="rotate(427.5 380 646)"><path class="ds" d="M646 646H700.5"/><text class="lb" x="592" y="649.5">Pelobacter</text><g transform="translate(709 646) rotate(-427.5)"><circle class="me" r="8.5"/><text class="bn" y="3.8">3</text></g></g>
<g id="leaf-Geoalkalibacter" transform="rotate(433.125 380 646)"><path class="ds" d="M669 646H700.5"/><text class="lb" x="592" y="649.5">Geoalkalibacter</text><g transform="translate(709 646) rotate(-433.125)"><circle class="me" r="8.5"/><text class="bn" y="3.8">2</text></g></g>
<g id="leaf-Desulfuromonas" transform="rotate(438.75 380 646)"><path class="ds" d="M674 646H681.5"/><text class="lb" x="592" y="649.5">Desulfuromonas</text><g transform="translate(709 646) rotate(-438.75)"><circle class="me" r="8.5"/><text class="bn" y="3.8">7</text></g><g transform="translate(690 646) rotate(-438.75)"><circle class="ps" r="8.5"/><text class="bn" y="3.8">1</text></g></g>
<g id="leaf-Geothermobacter" transform="rotate(444.375 380 646)"><path class="ds" d="M679 646H681.5"/><text class="lb" x="592" y="649.5">Geothermobacter</text><g transform="translate(709 646) rotate(-444.375)"><circle class="me" r="8.5"/><text class="bn" y="3.8">1</text></g><g transform="translate(690 646) rotate(-444.375)"><circle class="th" r="8.5"/><text class="bn" y="3.8">1</text></g></g>
<g id="leaf-Desulfuromusa" transform="rotate(450 380 646)"><path class="ds" d="M673 646H681.5"/><text class="lb" x="592" y="649.5">Desulfuromusa</text><g transform="translate(709 646) rotate(-450)"><circle class="me" r="8.5"/><text class="bn" y="3.8">3</text></g><g transform="translate(690 646) rotate(-450)"><circle class="ps" r="8.5"/><text class="bn" y="3.8">1</text></g></g>
<g id="leaf-Geopsychrobacter" transform="rotate(455.625 380 646)"><path class="ds" d="M687 646H700.5"/><text class="lb fl" x="592" y="649.5" transform="rotate(180 592 646)">Geopsychrobacter</text><g transform="translate(709 646) rotate(-455.625)"><circle class="me" r="8.5"/><text class="bn" y="3.8">1</text></g></g>
<g id="leaf-Sinirhodobacter" transform="rotate(461.25 380 646)"><path class="ds" d="M672 646H700.5"/><text class="lb fl" x="592" y="649.5" transform="rotate(180 592 646)">Sinirhodobacter</text><g transform="translate(709 646) rotate(-461.25)"><circle class="me" r="8.5"/><text class="bn" y="3.8">1</text></g></g>
<g id="leaf-Acidiphilium" transform="rotate(466.875 380 646)"><path class="ds" d="M655 646H700.5"/><text class="lb fl" x="592" y="649.5" transform="rotate(180 592 646)">Acidiphilium</text><g transform="translate(709 646) rotate(-466.875)"><circle class="ac" r="8.5"/><text class="bn" y="3.8">5</text></g></g>
<g id="leaf-Fontibacter" transform="rotate(472.5 380 646)"><path class="ds" d="M649 646H700.5"/><text class="lb fl" x="592" y="649.5" transform="rotate(180 592 646)">Fontibacter</text><g transform="translate(709 646) rotate(-472.5)"><circle class="me" r="8.5"/><text class="bn" y="3.8">1</text></g></g>
<g id="leaf-Melioribacter" transform="rotate(478.125 380 646)"><path class="ds" d="M657 646H700.5"/><text class="lb fl" x="592" y="649.5" transform="rotate(180 592 646)">Melioribacter</text><g transform="translate(709 646) rotate(-478.125)"><circle class="th" r="8.5"/><text class="bn" y="3.8">1</text></g></g>
<g id="leaf-Geothrix" transform="rotate(483.75 380 646)"><path class="ds" d="M636 646H700.5"/><text class="lb fl" x="592" y="649.5" transform="rotate(180 592 646)">Geothrix</text><g transform="translate(709 646) rotate(-483.75)"><circle class="me" r="8.5"/><text class="bn" y="3.8">1</text></g></g>
<g id="leaf-Paludibaculum" transform="rotate(489.375 380 646)"><path class="ds" d="M667 646H700.5"/><text class="lb fl" x="592" y="649.5" transform="rotate(180 592 646)">Paludibaculum</text><g transform="translate(709 646) rotate(-489.375)"><circle class="me" r="8.5"/><text class="bn" y="3.8">1</text></g></g>
<g id="leaf-Acidithiobacillus" transform="rotate(495 380 646)"><path class="ds" d="M677 646H700.5"/><text class="lb fl" x="592" y="649.5" transform="rotate(180 592 646)">Acidithiobacillus</text><g transform="translate(709 646) rotate(-495)"><circle class="ac" r="8.5"/><text class="bn" y="3.8">3</text></g></g>
<g id="leaf-Sulfurospirillum" transform="rotate(500.625 380 646)"><path class="ds" d="M675 646H700.5"/><text class="lb fl" x="592" y="649.5" transform="rotate(180 592 646)">Sulfurospirillum</text><g transform="translate(709 646) rotate(-500.625)"><circle class="me" r="8.5"/><text class="bn" y="3.8">1</text></g></g>
<g id="leaf-Ferribacterium" transform="rotate(506.25 380 646)"><path class="ds" d="M665 646H700.5"/><text class="lb fl" x="592" y="649.5" transform="rotate(180 592 646)">Ferribacterium</text><g transform="translate(709 646) rotate(-506.25)"><circle class="me" r="8.5"/><text class="bn" y="3.8">1</text></g></g>
<g id="leaf-Rhodoferax" transform="rotate(511.875 380 646)"><path class="ds" d="M651 646H700.5"/><text class="lb fl" x="592" y="649.5" transform="rotate(180 592 646)">Rhodoferax</text><g transform="translate(709 646) rotate(-511.875)"><circle class="me" r="8.5"/><text class="bn" y="3.8">1</text></g></g>
<g id="leaf-Shewanella" transform="rotate(517.5 380 646)"><path class="ds" d="M649 646H681.5"/><text class="lb fl" x="592" y="649.5" transform="rotate(180 592 646)">Shewanella</text><g transform="translate(709 646) rotate(-517.5)"><circle class="me" r="8.5"/><text class="bn" y="3.8">9</text></g><g transform="translate(690 646) rotate(-517.5)"><circle class="pz" r="8.5"/><text class="bn" y="3.8">1</text></g></g>
<g id="leaf-Ferrimonas" transform="rotate(523.125 380 646)"><path class="ds" d="M650 646H700.5"/><text class="lb fl" x="592" y="649.5" transform="rotate(180 592 646)">Ferrimonas</text><g transform="translate(709 646) rotate(-523.125)"><circle class="me" r="8.5"/><text class="bn" y="3.8">3</text></g></g>
<g id="leaf-Pantoea" transform="rotate(528.75 380 646)"><path class="ds" d="M634 646H700.5"/><text class="lb fl" x="592" y="649.5" transform="rotate(180 592 646)">Pantoea</text><g transform="translate(709 646) rotate(-528.75)"><circle class="me" r="8.5"/><text class="bn" y="3.8">1</text></g></g>
<g id="leaf-Aeromonas" transform="rotate(534.375 380 646)"><path class="ds" d="M650 646H700.5"/><text class="lb fl" x="592" y="649.5" transform="rotate(180 592 646)">Aeromonas</text><g transform="translate(709 646) rotate(-534.375)"><circle class="me" r="8.5"/><text class="bn" y="3.8">1</text></g></g>
</g>

<g id="legend-C">
<circle cx="28" cy="954" r="8.5" fill="#111"/><circle cx="28" cy="954" r="6.3" fill="#fff"/><circle cx="28" cy="954" r="4.6" fill="#111"/>
<text class="lg" x="43" y="958">Polyextremophilic strain</text>
<circle cx="28" cy="977" r="8.5" fill="#111"/><text class="bn" x="28" y="980.8">1</text>
<text class="lg" x="43" y="981"># strains in genus by adaptation</text>
</g>
<g id="legend-bootstrap">
<text x="630" y="935" style="font-size:9px;font-weight:bold;fill:#111">Bootstrap support</text>
<path d="M635 943.5L639.5 948L635 952.5L630.5 948Z" fill="#111"/><text class="bl" x="648" y="951.5">90-100</text>
<rect x="631.5" y="961.5" width="7" height="7" fill="#111"/><text class="bl" x="648" y="968.5">70-89</text>
<circle cx="635" cy="979.5" r="3.6" fill="#111"/><text class="bl" x="648" y="983">50-69</text>
</g>
</svg>
